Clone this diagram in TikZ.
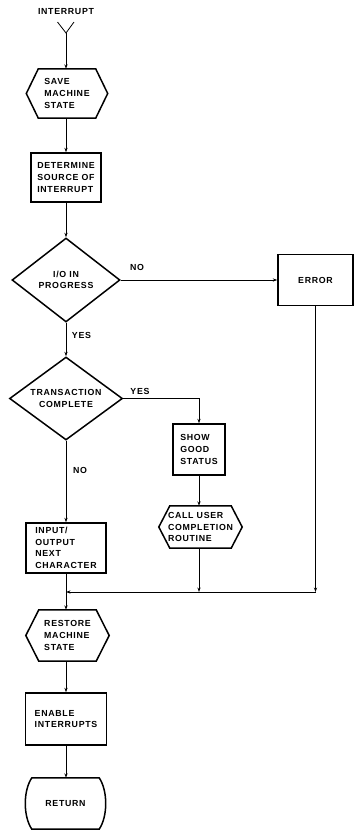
\documentclass[tikz,border=0pt]{standalone}
\usepackage{fontspec}
\setmainfont{Liberation Sans}
\newfontfamily\flowfont[LetterSpace=8]{Liberation Sans}
\usetikzlibrary{arrows.meta,shapes.geometric,calc}
\newcommand\hexoutline[2]{%
  \draw[shapeline] (#1.west) -- ($(#1.north west)+(#2,0)$) -- ($(#1.north east)+(-#2,0)$)
    -- (#1.east) -- ($(#1.south east)+(-#2,0)$) -- ($(#1.south west)+(#2,0)$) -- cycle;}
\newcommand\barreloutline[2]{%
  \draw[shapeline] ($(#1.north west)+(#2,0)$) -- ($(#1.north east)+(-#2,0)$)
    .. controls +(8.7,13) and +(8.7,-13) .. ($(#1.south east)+(-#2,0)$)
    -- ($(#1.south west)+(#2,0)$)
    .. controls +(-8.7,-13) and +(-8.7,13) .. cycle;}
\begin{document}
\begin{tikzpicture}[x=1pt,y=-1pt,
  font=\flowfont\bfseries\fontsize{8.8}{11.6}\selectfont,
  shapeline/.style={line width=1.5pt,line join=miter},
  procbox/.style={draw,line width=1.5pt,inner sep=0pt,align=left},
  textbox/.style={draw=none,inner sep=0pt,align=left},
  decision/.style={diamond,draw,line width=1.5pt,inner sep=0pt,aspect=1.3,align=center},
  conn/.style={line width=0.8pt},
  arr/.style={line width=0.8pt,-{Stealth[length=4.5pt,width=3.2pt]}},
  lab/.style={inner sep=0pt}]
\useasboundingbox (0,0) rectangle (354,830);

% entry
\node[lab] (intr) at (66,12) {INTERRUPT};
\coordinate (yl) at (57.5,22);
\coordinate (yr) at (74,22);
\coordinate (yj) at (66,33);
\draw[conn] (yl) -- (yj) -- (yr);

% nodes
\node[textbox,minimum width=81pt,minimum height=49pt] (save) at (67,93.5) {SAVE\\MACHINE\\STATE};
\hexoutline{save}{12}
\node[procbox,minimum width=70pt,minimum height=49pt] (det) at (66,177.5) {DETERMINE\\SOURCE OF\\INTERRUPT};
\node[decision,minimum width=108pt,minimum height=84pt] (io) at (66,280) {I/O IN\\PROGRESS};
\node[procbox,minimum width=75pt,minimum height=51pt,align=center] (err) at (315.5,280) {ERROR};
\node[decision,minimum width=113pt,minimum height=83pt] (tr) at (66,398.5) {TRANSACTION\\COMPLETE};
\node[procbox,minimum width=52pt,minimum height=51pt] (show) at (199,449.5) {SHOW\\GOOD\\STATUS};
\node[textbox,minimum width=83pt,minimum height=42pt] (call) at (200.5,527) {CALL USER\\COMPLETION\\ROUTINE};
\hexoutline{call}{11}
\node[procbox,minimum width=80pt,minimum height=50pt] (inp) at (66,548) {INPUT/\\OUTPUT\\NEXT\\CHARACTER};
\node[textbox,minimum width=83pt,minimum height=51pt] (rest) at (67.5,635.5) {RESTORE\\MACHINE\\STATE};
\hexoutline{rest}{13}
\node[procbox,minimum width=81pt,minimum height=52pt] (en) at (66,719) {ENABLE\\INTERRUPTS};
\node[textbox,minimum width=81pt,minimum height=51pt,align=center] (ret) at (65.5,803.5) {RETURN};
\barreloutline{ret}{7}

% labels
\node[lab] (no1) at (137,267) {NO};
\node[lab] (yes1) at (81.5,335) {YES};
\node[lab] (yes2) at (140,391) {YES};
\node[lab] (no2) at (80,470) {NO};

% junctions
\coordinate (jerr) at (315.5,592);
\coordinate (jcall) at (199,592);
\coordinate (jmain) at (66,592);

% connectors
\draw[arr] (yj) -- (yj |- save.north);
\draw[arr] (save.south -| det.north) -- (det.north);
\draw[arr] (det.south) -- (io.north);
\draw[arr] (io.east) -- (err.west);
\draw[arr] (io.south) -- (tr.north);
\draw[arr] (tr.east) -| (show.north);
\draw[arr] (show.south) -- (show.south |- call.north);
\draw[arr] (tr.south) -- (inp.north);
\draw[arr] (err.south) -- (jerr);
\draw[arr] (call.south -| jcall) -- (jcall);
\draw[arr] (jerr) -- (jmain);
\draw[arr] (inp.south) -- (inp.south |- rest.north);
\draw[arr] (rest.south -| en.north) -- (en.north);
\draw[arr] (en.south) -- (en.south |- ret.north);
\end{tikzpicture}
\end{document}
